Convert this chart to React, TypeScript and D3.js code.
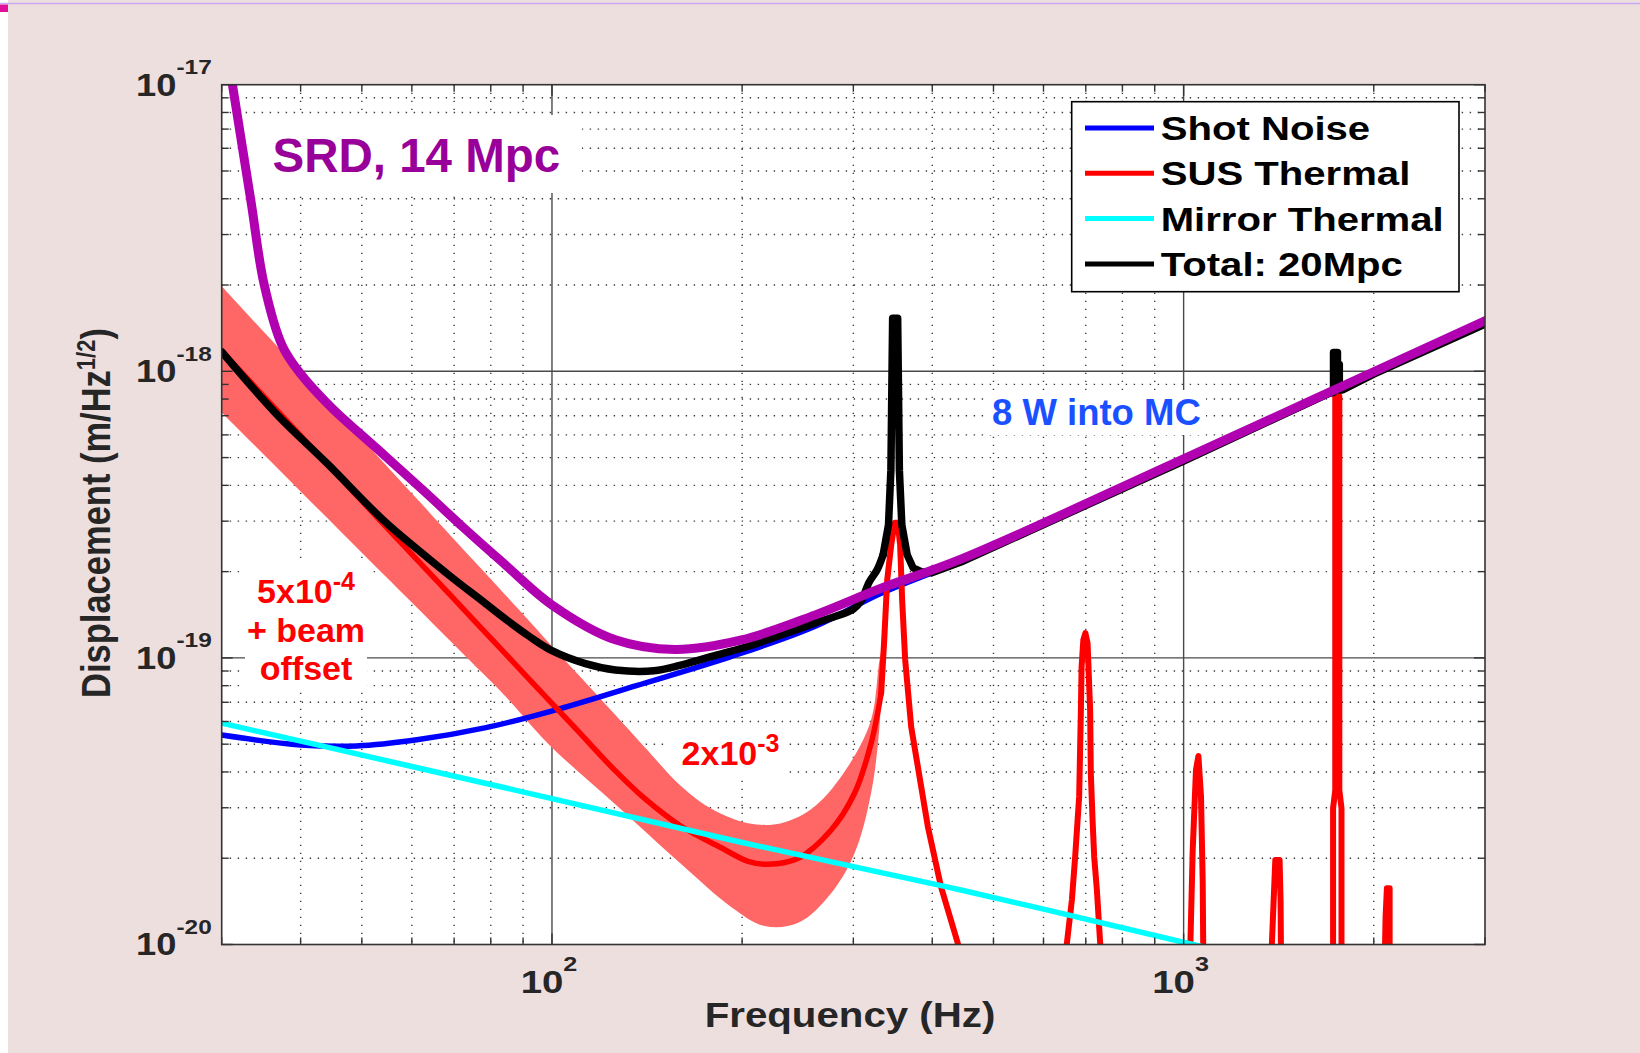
import React from "react";
import * as d3 from "d3";

type Pt = [number, number];

// ---- data (frequency Hz, displacement m/rtHz) ----
const shotNoise: Pt[] = [
  [30, 5.38e-20], [40, 4.97e-20], [49.1, 4.93e-20], [61.1, 5.18e-20], [78.6, 5.71e-20],
  [100.5, 6.55e-20], [136, 8.0e-20], [192, 1.01e-19], [260, 1.285e-19], [332, 1.68e-19],
  [444, 2.18e-19], [1000, 4.9e-19], [3000, 1.466e-18],
];

// SUS thermal: smooth broadband part, then resonance peaks
const susThermalBroad: Pt[] = [
  [30, 1.175e-18], [40, 5.97e-19], [54.2, 2.92e-19], [69, 1.66e-19], [77.4, 1.265e-19],
  [85, 1.016e-19], [99.3, 7.05e-20], [110, 5.55e-20], [125.8, 4.05e-20], [140, 3.24e-20],
  [160.3, 2.58e-20], [185, 2.18e-20], [204.4, 1.95e-20], [219.8, 1.905e-20], [245.3, 2.0e-20],
  [276.7, 2.51e-20], [301.3, 3.37e-20], [320.1, 5.04e-20], [332, 7.52e-20],
];
const susThermalPeaks: Pt[] = [
  [332, 7.52e-20], [335.7, 1.15e-19], [339.4, 1.87e-19],
  [344.4, 2.48e-19], [348.8, 2.96e-19], [352.6, 2.96e-19], [355.8, 2.48e-19], [358.4, 1.59e-19],
  [362.4, 9.84e-20], [370.4, 5.75e-20], [393.6, 2.58e-20], [413, 1.59e-20], [439, 1.01e-20],
  [470, 5.0e-21], [600, 3e-21],
  [653.4, 1.01e-20], [665.4, 1.43e-20], [673.4, 2.02e-20], [683.3, 3.28e-20], [687.6, 6.58e-20],
  [689.4, 9.31e-20], [693.8, 1.155e-19], [699, 1.22e-19], [704.6, 1.125e-19], [711.2, 6.58e-20],
  [713, 3.95e-20], [717.5, 2.72e-20], [721.8, 2.02e-20], [728.9, 1.55e-20], [737.7, 1.01e-20],
  [800, 3e-21], [1000, 3e-21],
  [1025, 1.01e-20], [1033.7, 2.14e-20], [1046, 4.06e-20], [1055.4, 4.55e-20], [1065.4, 3.28e-20],
  [1072, 1.66e-20], [1074, 1.0e-20],
  [1200, 3e-21], [1350, 3e-21],
  [1379.6, 1.01e-20], [1388.2, 1.41e-20], [1396.8, 1.97e-20], [1418.8, 1.97e-20], [1424, 1.41e-20],
  [1425.6, 1.01e-20],
  [1500, 3e-21], [1700, 3e-21],
  [1724.3, 1.0e-20], [1724.3, 2.99e-20], [1738, 3.46e-20], [1738, 8.2e-19], [1750.6, 8.38e-19],
  [1764, 8.2e-19], [1764, 3.46e-20], [1778, 2.99e-20], [1778, 1.0e-20],
  [1900, 3e-21], [2050, 3e-21],
  [2084, 1.0e-20], [2088, 1.25e-20], [2098, 1.57e-20], [2119, 1.57e-20], [2119, 1.0e-20],
  [2200, 3e-21], [3000, 3e-21],
];

const mirrorThermal: Pt[] = [
  [30, 5.92e-20], [60, 4.18e-20], [100, 3.23e-20], [200, 2.27e-20], [444, 1.55e-20],
  [1034, 1.0e-20], [1100, 9.7e-21],
];

// Total: smooth low-frequency part, then the part with the resonance spikes
const totalBroad: Pt[] = [
  [30, 1.17e-18], [36.7, 7.06e-19], [44.1, 4.76e-19], [54.2, 3.01e-19], [62, 2.34e-19],
  [69, 1.93e-19], [77.4, 1.585e-19], [85, 1.35e-19], [92, 1.19e-19], [100, 1.06e-19],
  [113, 9.55e-20], [126, 9.08e-20], [145, 9.02e-20], [160, 9.44e-20], [182, 1.023e-19],
  [204, 1.096e-19], [224, 1.175e-19], [260, 1.32e-19], [300, 1.48e-19], [308.5, 1.58e-19],
  [317.9, 1.84e-19], [327.2, 2.03e-19], [334.4, 2.29e-19],
];
const totalPeaks: Pt[] = [
  [334.4, 2.29e-19], [341, 2.91e-19], [344, 4.52e-19], [345.6, 1.1e-18], [346.2, 1.53e-18],
  [352.6, 1.53e-18], [353.2, 1.1e-18], [354.8, 4.52e-19], [358, 2.91e-19], [365, 2.29e-19],
  [373.1, 2.06e-19], [384.1, 2.0e-19], [398.4, 1.98e-19], [444, 2.16e-19], [1000, 4.86e-19],
  [1696, 8.36e-19], [1727, 8.45e-19], [1727, 1.164e-18], [1752, 1.164e-18], [1752, 1.057e-18],
  [1764, 1.057e-18], [1764, 8.6e-19], [1785, 8.61e-19], [2000, 9.77e-19], [3000, 1.46e-18],
];

const srdCurve: Pt[] = [
  [30, 1.74e-17], [31.2, 1.0e-17], [33.4, 3.88e-18], [35, 2.02e-18], [37.4, 1.23e-18],
  [40, 9.8e-19], [44.6, 7.53e-19], [52.9, 5.36e-19], [62.9, 3.8e-19], [72.4, 2.85e-19],
  [83.8, 2.14e-19], [100, 1.53e-19], [126, 1.156e-19], [156.5, 1.07e-19], [199.5, 1.155e-19],
  [260.5, 1.41e-19], [332, 1.75e-19], [444, 2.21e-19], [1000, 4.95e-19], [3000, 1.5e-18],
];

const bandUpper: Pt[] = [
  [30, 1.98e-18], [35, 1.37e-18], [40, 9.93e-19], [47, 6.75e-19], [54.2, 4.79e-19],
  [62, 3.47e-19], [69, 2.68e-19], [77.4, 2.04e-19], [85, 1.63e-19], [98.7, 1.135e-19],
  [110, 8.75e-20], [125.8, 6.34e-20], [140, 4.9e-20], [160.3, 3.56e-20], [180, 2.95e-20],
  [204.4, 2.65e-20], [230.7, 2.65e-20], [260.5, 3.03e-20], [294, 4.17e-20], [320, 6.07e-20],
  [330, 9.82e-20], [334, 1.1e-19],
];

const bandLower: Pt[] = [
  [30, 7.18e-19], [40, 3.81e-19], [54.2, 1.95e-19], [66, 1.265e-19], [77.4, 8.91e-20],
  [84, 7.43e-20], [98.7, 5.01e-20], [125.8, 3.09e-20], [160.3, 1.905e-20], [192.4, 1.35e-20],
  [217.1, 1.16e-20], [245.3, 1.19e-20], [276.7, 1.51e-20], [301.3, 2.08e-20], [320, 3.37e-20],
  [330, 5.75e-20], [334, 1.0e-19],
];

const xDomain: [number, number] = [30, 3000];
const yDomain: [number, number] = [1e-20, 1e-17];
const xTickLabels = [{ v: 100, base: "10", exp: "2" }, { v: 1000, base: "10", exp: "3" }];
const yTickLabels = [
  { v: 1e-17, base: "10", exp: "-17" },
  { v: 1e-18, base: "10", exp: "-18" },
  { v: 1e-19, base: "10", exp: "-19" },
  { v: 1e-20, base: "10", exp: "-20" },
];
const legendLabels = ["Shot Noise", "SUS Thermal", "Mirror Thermal", "Total: 20Mpc"];

const FONT = "'Liberation Sans', Arial, Helvetica, sans-serif";

export default function App() {
  const L = 221.7, R = 1485, T = 84.7, B = 944.5;
  const x = d3.scaleLog().domain(xDomain).range([L, R]);
  const y = d3.scaleLog().domain(yDomain).range([B, T]);

  const smooth = d3.line<Pt>().x((d) => x(d[0])).y((d) => y(d[1])).curve(d3.curveCatmullRom.alpha(0.5));
  const linear = d3.line<Pt>().x((d) => x(d[0])).y((d) => y(d[1])).curve(d3.curveLinear);

  const upperD = smooth(bandUpper) || "";
  const lowerD = smooth([...bandLower].reverse()) || "";
  const bandD = upperD + lowerD.replace(/^M/, "L") + "Z";

  const isMajor = (v: number) => Math.abs(Math.log10(v) - Math.round(Math.log10(v))) < 1e-6;
  const xTicks = x.ticks();
  const yTicks = y.ticks();

  const gridMinor = { stroke: "#3a3a3a", strokeWidth: 1.4, strokeDasharray: "1.4 6.6" };
  const gridMajor = { stroke: "#4a4a4a", strokeWidth: 1.4 };

  const legendColors = ["#0000FF", "#FF0000", "#00FFFF", "#000000"];
  const legendRows = [128, 173.3, 218.6, 264];

  return (
    <div>
      <style>{"body{margin:0}"}</style>
      <svg width={1640} height={1053} style={{ display: "block", position: "absolute", left: 0, top: 0 }} fontFamily={FONT}>
        <defs>
          <clipPath id="plotClip">
            <rect x={L} y={T} width={R - L} height={B - T} />
          </clipPath>
        </defs>
        <rect x={0} y={0} width={1640} height={1053} fill="#ffffff" />
        <rect x={8} y={0} width={1632} height={1053} fill="#EEDFDF" />
        <line x1={0} x2={1640} y1={3.5} y2={3.5} stroke="#C8A8F0" strokeWidth={1.5} />
        <rect x={0} y={4.5} width={8} height={7.5} fill="#E0109A" />

        {/* plot area */}
        <rect x={L} y={T} width={R - L} height={B - T} fill="#ffffff" />

        {/* grid */}
        {xTicks.filter((v) => x(v) > L + 1 && x(v) < R - 1).map((v, i) => (
          <line key={"gx" + i} x1={x(v)} x2={x(v)} y1={T} y2={B} {...(isMajor(v) ? gridMajor : gridMinor)} />
        ))}
        {yTicks.filter((v) => y(v) > T + 1 && y(v) < B - 1).map((v, i) => (
          <line key={"gy" + i} x1={L} x2={R} y1={y(v)} y2={y(v)} {...(isMajor(v) ? gridMajor : gridMinor)} />
        ))}

        {/* annotation boxes (hide grid) */}
        <rect x={245} y={115} width={337} height={78} fill="#ffffff" />
        <rect x={988} y={390} width={218} height={45} fill="#ffffff" />
        <rect x={245} y={563} width={122} height={125} fill="#ffffff" />
        <rect x={667} y={723} width={120} height={54} fill="#ffffff" />

        {/* curves */}
        <g clipPath="url(#plotClip)" fill="none" strokeLinejoin="round" strokeLinecap="round">
          <path d={bandD} fill="#FF6666" stroke="none" />
          <path d={smooth(shotNoise) || ""} stroke="#0000FF" strokeWidth={5.5} />
          <path d={smooth(susThermalBroad) || ""} stroke="#FF0000" strokeWidth={5.5} />
          <path d={linear(susThermalPeaks) || ""} stroke="#FF0000" strokeWidth={6} />
          <path d={smooth(mirrorThermal) || ""} stroke="#00FFFF" strokeWidth={5.5} />
          <path d={smooth(totalBroad) || ""} stroke="#000000" strokeWidth={7.5} />
          <path d={linear(totalPeaks) || ""} stroke="#000000" strokeWidth={7.5} />
          <path d={smooth(srdCurve) || ""} stroke="#B000B0" strokeWidth={9} />
        </g>

        {/* frame and ticks */}
        <rect x={L} y={T} width={R - L} height={B - T} fill="none" stroke="#333" strokeWidth={1.6} />
        {xTicks.map((v, i) => {
          const len = isMajor(v) ? 11 : 7;
          return (
            <g key={"tx" + i} stroke="#333" strokeWidth={1.4}>
              <line x1={x(v)} x2={x(v)} y1={B} y2={B - len} />
              <line x1={x(v)} x2={x(v)} y1={T} y2={T + len} />
            </g>
          );
        })}
        {yTicks.map((v, i) => {
          const len = isMajor(v) ? 11 : 7;
          return (
            <g key={"ty" + i} stroke="#333" strokeWidth={1.4}>
              <line x1={L} x2={L + len} y1={y(v)} y2={y(v)} />
              <line x1={R} x2={R - len} y1={y(v)} y2={y(v)} />
            </g>
          );
        })}

        {/* tick labels */}
        {yTickLabels.map((t, i) => (
          <g key={"yl" + i} transform={`translate(211.7,${y(t.v) + 10.8}) scale(1.19,1)`}>
            <text textAnchor="end" fontSize={30.5} fontWeight="bold" fill="#262626">
              {t.base}
              <tspan dy={-21.5} fontSize={20.5}>{t.exp}</tspan>
            </text>
          </g>
        ))}
        {xTickLabels.map((t, i) => (
          <g key={"xl" + i} transform={`translate(${x(t.v) - 3},993) scale(1.2,1)`}>
            <text textAnchor="middle" fontSize={32} fontWeight="bold" fill="#262626">
              {t.base}
              <tspan dy={-22} fontSize={21}>{t.exp}</tspan>
            </text>
          </g>
        ))}

        {/* axis titles */}
        <g transform="translate(850,1027) scale(1.15,1)">
          <text textAnchor="middle" fontSize={35} fontWeight="bold" fill="#262626">Frequency (Hz)</text>
        </g>
        <g transform="translate(110,513) scale(1.18,1) rotate(-90)">
          <text textAnchor="middle" fontSize={34.5} fontWeight="bold" fill="#262626">
            Displacement (m/Hz
            <tspan dy={-13} fontSize={22}>1/2</tspan>
            <tspan dy={13}>)</tspan>
          </text>
        </g>

        {/* annotations */}
        <text x={272.5} y={171.7} fontSize={47.5} fontWeight="bold" fill="#990099">SRD, 14 Mpc</text>
        <text x={992} y={425} fontSize={36.5} fontWeight="bold" fill="#1a50ff">8 W into MC</text>
        <text x={306} y={603.3} textAnchor="middle" fontSize={34} fontWeight="bold" fill="#FF0000">
          5x10<tspan dy={-13} fontSize={25}>-4</tspan>
        </text>
        <text x={306} y={641.7} textAnchor="middle" fontSize={34} fontWeight="bold" fill="#FF0000">+ beam</text>
        <text x={306} y={680} textAnchor="middle" fontSize={34} fontWeight="bold" fill="#FF0000">offset</text>
        <text x={730.5} y={765} textAnchor="middle" fontSize={34} fontWeight="bold" fill="#FF0000">
          2x10<tspan dy={-13} fontSize={25}>-3</tspan>
        </text>

        {/* legend */}
        <rect x={1071.7} y={101.7} width={387.3} height={190} fill="#ffffff" stroke="#000" strokeWidth={1.6} />
        {legendLabels.map((lab, i) => (
          <g key={"lg" + i}>
            <line x1={1085} x2={1154} y1={legendRows[i]} y2={legendRows[i]} stroke={legendColors[i]} strokeWidth={5} />
            <g transform={`translate(1160.7,${legendRows[i] + 12}) scale(1.18,1)`}>
              <text fontSize={34} fontWeight="bold" fill="#000">{lab}</text>
            </g>
          </g>
        ))}
      </svg>
    </div>
  );
}
